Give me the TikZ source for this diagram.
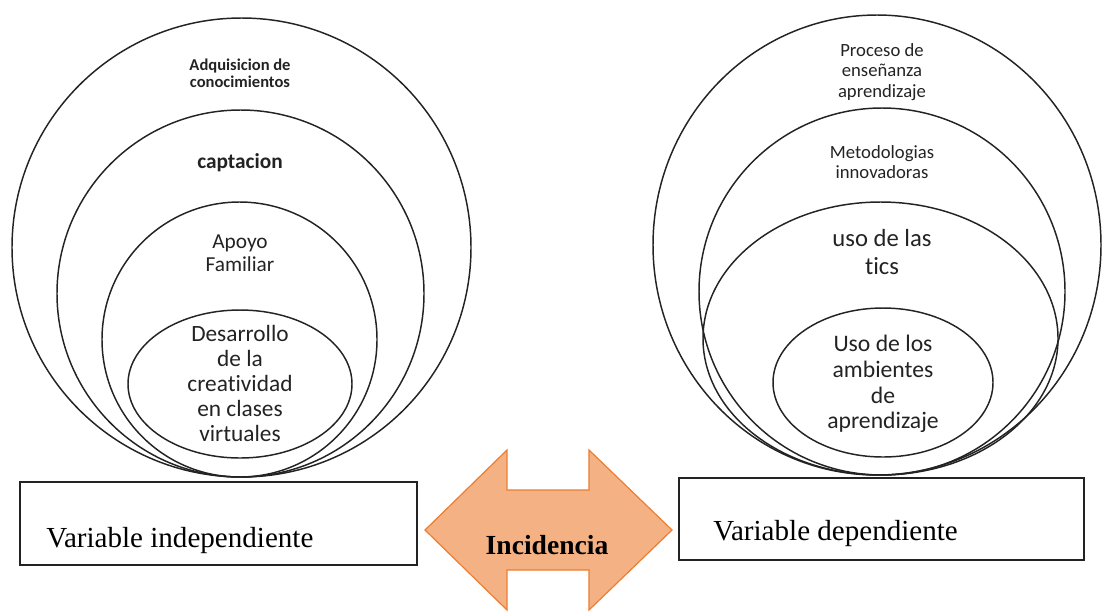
\documentclass[tikz,border=0pt]{standalone}
\usepackage{fontspec}
\setmainfont{Carlito}[Ligatures={NoCommon,NoRare}]
\newfontfamily\tnrfont{Liberation Serif}
\definecolor{inkgray}{RGB}{35,35,35}
\definecolor{arrowfill}{RGB}{244,177,131}
\definecolor{arrowedge}{RGB}{237,125,49}
\tikzset{
  ring/.style={draw=inkgray, line width=1.1pt},
  ringtext/.style={align=center, inner sep=0.75pt, text=inkgray},
  varbox/.style={draw=inkgray, line width=1.1pt},
  vartext/.style={anchor=west, inner sep=0.75pt, font=\tnrfont\fontsize{21.8}{26}\selectfont},
}
\begin{document}
\begin{tikzpicture}[x=0.75pt,y=0.75pt,yscale=-1,xscale=1]
\useasboundingbox (0,0) rectangle (1102,612);

%Rings: variable independiente
\draw [ring] (241.5,247.5) ellipse (229.5 and 229.5);
\draw [ring] (240.5,293.5) ellipse (183.5 and 183.5);
\draw [ring] (239.5,339.5) ellipse (137.5 and 137.5);
\draw [ring] (240,384) ellipse (112 and 74);

%Rings: variable dependiente
\draw [ring] (877,245) ellipse (224 and 230);
\draw [ring] (882,291.5) ellipse (183 and 183.5);
\draw [ring] (880.5,338.5) ellipse (177.5 and 136.5);
\draw [ring] (883,382.5) ellipse (110 and 74.5);

% Text Node
\node (adq) at (240,73.5) [ringtext, font=\bfseries\fontsize{12.4}{12.75}\selectfont] {Adquisicion de\\conocimientos};
\node (capt) at (240,163) [ringtext, font=\bfseries\fontsize{16}{18}\selectfont] {captacion};
\node (apoyo) at (240,253.5) [ringtext, font=\fontsize{16}{17.25}\selectfont] {Apoyo\\Familiar};
\node (desa) at (240,383) [ringtext, font=\fontsize{17.5}{18.75}\selectfont] {Desarrollo\\de la\\creatividad\\en clases\\virtuales};

\node (proc) at (882,72) [ringtext, font=\fontsize{14}{15.4}\selectfont] {Proceso de\\enseñanza\\aprendizaje};
\node (meto) at (882,162) [ringtext, font=\fontsize{14}{15}\selectfont] {Metodologias\\innovadoras};
\node (tics) at (882,252) [ringtext, font=\fontsize{18.5}{21}\selectfont] {uso de las\\tics};
\node (amb) at (883,384) [ringtext, font=\fontsize{17.75}{19.3}\selectfont] {Uso de los\\ambientes\\de\\aprendizaje};

%Variable boxes
\draw [varbox] (20,482) rectangle (417,565);
\node (vind) at (45,540) [vartext] {Variable independiente};
\draw [varbox] (679,478) rectangle (1084,560);
\node (vdep) at (712,533) [vartext] {Variable dependiente};

%Double arrow
\draw [draw=arrowedge, fill=arrowfill, line width=0.9pt, line join=miter] (425,530) -- (507,450) -- (507,490) -- (589,490) -- (589,450) -- (672,530) -- (589,610) -- (589,570) -- (507,570) -- (507,610) -- cycle;
\node (inc) at (547,545) [inner sep=0.75pt, font=\tnrfont\bfseries\fontsize{20.7}{24}\selectfont] {Incidencia};
\end{tikzpicture}
\end{document}
